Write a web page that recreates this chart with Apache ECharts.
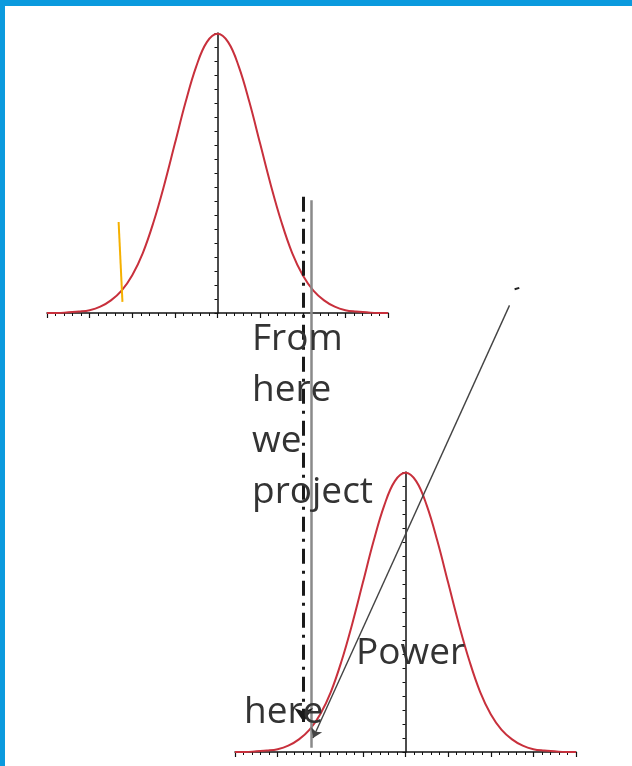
<!DOCTYPE html>
<html>
<head>
<meta charset="utf-8">
<style>
  html, body { margin: 0; padding: 0; background: #ffffff; }
  #chart { width: 632px; height: 766px; }
</style>
<script src="https://cdn.jsdelivr.net/npm/echarts@6/dist/echarts.min.js"></script>
</head>
<body>
<div id="chart"></div>
<script>
// Standardised positions (in standard deviations) and the bell-curve heights read at them
const zPositions = [-4, -3.75, -3.5, -3.25, -3, -2.75, -2.5, -2.25, -2, -1.75, -1.5, -1.25, -1, -0.75, -0.5, -0.25,
  0, 0.25, 0.5, 0.75, 1, 1.25, 1.5, 1.75, 2, 2.25, 2.5, 2.75, 3, 3.25, 3.5, 3.75, 4];
const density = [0.000, 0.000, 0.001, 0.002, 0.004, 0.009, 0.018, 0.032, 0.054, 0.086, 0.130, 0.183, 0.242, 0.301, 0.352, 0.387,
  0.399, 0.387, 0.352, 0.301, 0.242, 0.183, 0.130, 0.086, 0.054, 0.032, 0.018, 0.009, 0.004, 0.002, 0.001, 0.000, 0.000];

// Annotation segments in the shared frame (x: sd units from the upper mean, y: density units from the upper baseline)
const criticalLine = [[2.02, 0.166], [2.02, -0.584]];
const projectionLine = [[2.20, 0.161], [2.20, -0.621]];
const powerPointer = [[6.85, 0.011], [2.24, -0.607]];
const pointerTick = [[6.97, 0.034], [7.08, 0.036]];
const tailMarker = [[-2.32, 0.130], [-2.23, 0.016]];

// Text labels
const projectWords = ['From', 'here', 'we', 'project'];
const powerLabel = 'Power';
const hereLabel = 'here';

const pairs = zPositions.map((z, i) => [z, density[i]]);

const curveColor = '#c8303c';
const axisColor = '#111111';
const textColor = '#333333';
const fontFamily = '"Open Sans", "Noto Sans", sans-serif';
const labelFont = '37px ' + fontFamily;

function valueXAxis(gridIndex) {
  return {
    type: 'value', gridIndex: gridIndex, min: -4, max: 4, interval: 1,
    axisLine: { show: true, onZero: true, lineStyle: { color: axisColor, width: 1.5 } },
    axisTick: { show: true, length: 5, lineStyle: { color: axisColor, width: 1.2 } },
    minorTick: { show: true, splitNumber: 5, length: 3, lineStyle: { color: axisColor, width: 1 } },
    axisLabel: { show: false }, splitLine: { show: false }
  };
}
function valueYAxis(gridIndex) {
  return {
    type: 'value', gridIndex: gridIndex, min: 0, max: 0.4, interval: 0.02,
    axisLine: { show: true, onZero: true, lineStyle: { color: axisColor, width: 1.5 } },
    axisTick: { show: true, length: 3, lineStyle: { color: axisColor, width: 1 } },
    axisLabel: { show: false }, splitLine: { show: false }
  };
}

function segment(points, style, arrow) {
  return [
    { coord: points[0], symbol: 'none' },
    { coord: points[1], symbol: arrow ? 'arrow' : 'none', symbolSize: arrow ? arrow : 0, lineStyle: style }
  ];
}

const chart = echarts.init(document.getElementById('chart'), null, { renderer: 'canvas' });

const textItems = projectWords.map((w, i) => ({
  type: 'text', left: 252, top: 321 + i * 51, z: 20,
  style: { text: w, font: labelFont, fill: textColor }
}));
textItems.push({ type: 'text', left: 356, top: 635, z: 20, style: { text: powerLabel, font: labelFont, fill: textColor } });
textItems.push({ type: 'text', left: 244, top: 694, z: 20, style: { text: hereLabel, font: labelFont, fill: textColor } });

chart.setOption({
  animation: false,
  backgroundColor: '#ffffff',
  grid: [
    { left: 47, top: 33, width: 341, height: 280 },
    { left: 235, top: 472, width: 341, height: 280 },
    { left: 47, top: 33, width: 529, height: 719 }
  ],
  xAxis: [
    valueXAxis(0),
    valueXAxis(1),
    { type: 'value', gridIndex: 2, min: -4, max: 8.41, show: false }
  ],
  yAxis: [
    valueYAxis(0),
    valueYAxis(1),
    { type: 'value', gridIndex: 2, min: -0.627, max: 0.4, show: false }
  ],
  series: [
    {
      type: 'line', xAxisIndex: 0, yAxisIndex: 0, data: pairs, smooth: 0.4, showSymbol: false,
      lineStyle: { color: curveColor, width: 2 }, z: 3
    },
    {
      type: 'line', xAxisIndex: 1, yAxisIndex: 1, data: pairs, smooth: 0.4, showSymbol: false,
      lineStyle: { color: curveColor, width: 2 }, z: 3
    },
    {
      type: 'line', xAxisIndex: 2, yAxisIndex: 2, data: [], z: 5,
      markLine: {
        silent: true, animation: false,
        label: { show: false },
        symbol: ['none', 'none'],
        data: [
          segment(projectionLine, { color: '#8a8a8a', width: 2.5, type: 'solid' }),
          segment(criticalLine, { color: '#1a1a1a', width: 3, type: [15, 7, 3, 7] }, 14),
          segment(powerPointer, { color: '#444444', width: 1.4, type: 'solid' }, 9),
          segment(pointerTick, { color: '#222222', width: 2, type: 'solid' }),
          segment(tailMarker, { color: '#f5b000', width: 2, type: 'solid' })
        ]
      }
    }
  ],
  graphic: [
    { type: 'rect', left: 0, top: 0, z: 30, shape: { width: 632, height: 6 }, style: { fill: '#0b9ade' } },
    { type: 'rect', left: 0, top: 0, z: 30, shape: { width: 5, height: 766 }, style: { fill: '#0b9ade' } }
  ].concat(textItems)
});
</script>
</body>
</html>
